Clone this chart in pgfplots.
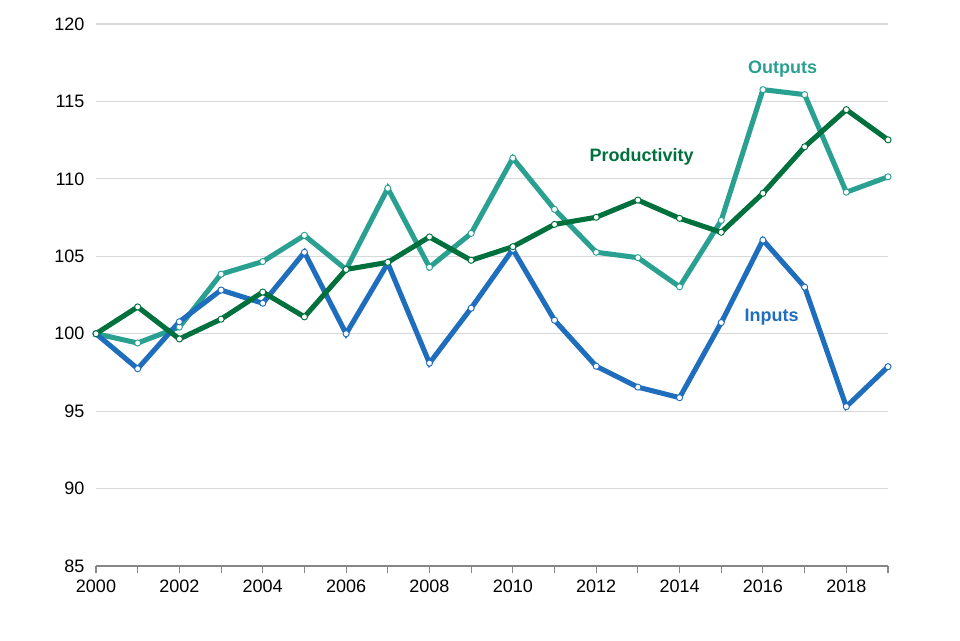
\documentclass[border=0pt]{standalone}
\usepackage{fontspec}
\setmainfont{Liberation Sans}
\usepackage{pgfplots}
\pgfplotsset{compat=1.18}

\definecolor{prodgreen}{RGB}{0,112,60}
\definecolor{outteal}{RGB}{42,160,145}
\definecolor{inblue}{RGB}{31,110,190}
\definecolor{gridgray}{RGB}{217,217,217}
\definecolor{axisgray}{RGB}{134,134,134}

\begin{document}
\fontsize{13.5}{16}\selectfont
\begin{tikzpicture}
\begin{axis}[
    name=ax,
    scale only axis,
    width=594pt, height=406.5pt,
    xmin=2000, xmax=2019,
    ymin=85, ymax=120,
    xtick={2000,2002,...,2018},
    minor xtick={2001,2003,...,2019},
    ytick={85,90,...,120},
    /pgf/number format/1000 sep={},
    /pgf/number format/assume math mode=true,
    tick label style={font=\fontsize{13.5}{16}\selectfont},
    axis x line*=bottom,
    axis y line*=left,
    x axis line style={axisgray, line width=0.8pt},
    y axis line style={draw=none},
    xtick align=outside,
    major tick length=5pt, minor tick length=5pt,
    xtick style={axisgray, line width=0.8pt},
    ytick style={draw=none},
    xticklabel style={yshift=-1pt},
    ymajorgrids=true,
    grid style={gridgray, line width=0.8pt},
    yticklabel style={xshift=-4pt},
    every axis plot/.append style={line width=3.8pt, mark=*, mark size=2.3pt,
        mark options={fill=white, line width=0.7pt}},
    clip=false,
]
% Outputs
\addplot[outteal] coordinates {
(2000,100.00)(2001,99.40)(2002,100.43)(2003,103.85)(2004,104.66)(2005,106.35)
(2006,104.15)(2007,109.39)(2008,104.29)(2009,106.48)(2010,111.34)(2011,108.03)
(2012,105.26)(2013,104.91)(2014,103.03)(2015,107.32)(2016,115.76)(2017,115.44)
(2018,109.14)(2019,110.13)};
% Inputs
\addplot[inblue] coordinates {
(2000,100.00)(2001,97.74)(2002,100.77)(2003,102.82)(2004,101.97)(2005,105.26)
(2006,100.00)(2007,104.55)(2008,98.10)(2009,101.65)(2010,105.45)(2011,100.87)
(2012,97.90)(2013,96.55)(2014,95.87)(2015,100.72)(2016,106.05)(2017,103.01)
(2018,95.29)(2019,97.87)};
% Productivity
\addplot[prodgreen] coordinates {
(2000,100.00)(2001,101.73)(2002,99.66)(2003,100.94)(2004,102.69)(2005,101.09)
(2006,104.15)(2007,104.61)(2008,106.25)(2009,104.74)(2010,105.62)(2011,107.06)
(2012,107.52)(2013,108.63)(2014,107.45)(2015,106.55)(2016,109.07)(2017,112.07)
(2018,114.47)(2019,112.52)};
\node[font=\bfseries\fontsize{13.5}{16}\selectfont, text=outteal] at (axis cs:2016.47,117.1) {Outputs};
\node[font=\bfseries\fontsize{13.5}{16}\selectfont, text=prodgreen] at (axis cs:2013.09,111.41) {Productivity};
\node[font=\bfseries\fontsize{13.5}{16}\selectfont, text=inblue] at (axis cs:2016.21,101.08) {Inputs};
\end{axis}
\pgfresetboundingbox
\path[use as bounding box] ([shift={(-72pt,-55.5pt)}]ax.south west) rectangle ++(720pt,480pt);
\end{tikzpicture}
\end{document}
